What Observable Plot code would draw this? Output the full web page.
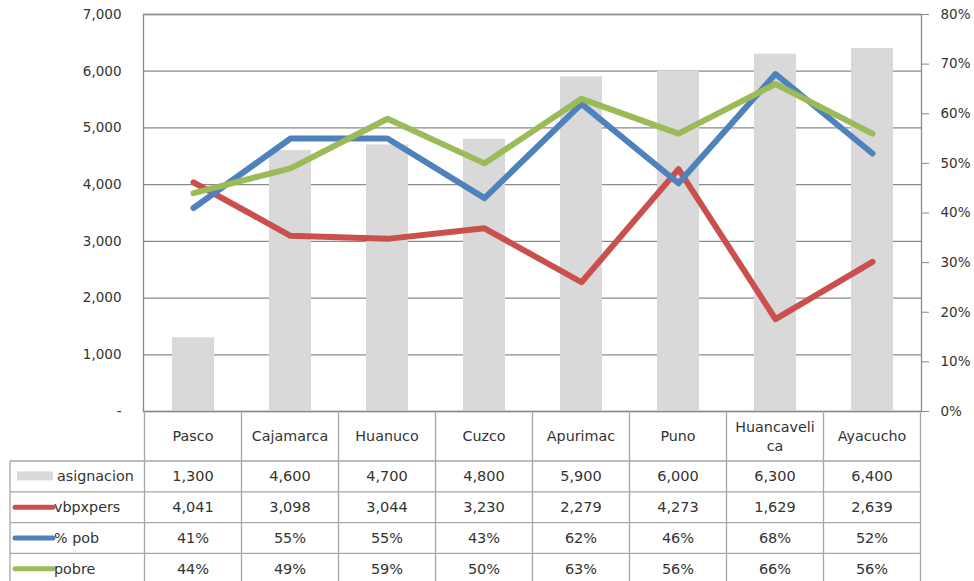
<!DOCTYPE html>
<html>
<head>
<meta charset="utf-8">
<script src="https://cdn.jsdelivr.net/npm/d3@7"></script>
<script src="https://cdn.jsdelivr.net/npm/@observablehq/plot@0.6"></script>
<style>
  html, body { margin: 0; padding: 0; background: #fff; }
  #chart svg { display: block; }
</style>
</head>
<body>
<div id="chart"></div>
<script>
// ---- data ----
const categories = ["Pasco", "Cajamarca", "Huanuco", "Cuzco", "Apurimac", "Puno", "Huancavelica", "Ayacucho"];
const headerLabels = [["Pasco"], ["Cajamarca"], ["Huanuco"], ["Cuzco"], ["Apurimac"], ["Puno"], ["Huancaveli", "ca"], ["Ayacucho"]];
const asignacion = [1300, 4600, 4700, 4800, 5900, 6000, 6300, 6400];
const vbpxpers = [4041, 3098, 3044, 3230, 2279, 4273, 1629, 2639];
const pctPob = [0.41, 0.55, 0.55, 0.43, 0.62, 0.46, 0.68, 0.52];
const pobre = [0.44, 0.49, 0.59, 0.50, 0.63, 0.56, 0.66, 0.56];
const leftTicks = [0, 1000, 2000, 3000, 4000, 5000, 6000, 7000];
const rightTicks = [0, 0.1, 0.2, 0.3, 0.4, 0.5, 0.6, 0.7, 0.8];
const seriesNames = ["asignacion", "vbpxpers", "% pob", "pobre"];

// ---- styles ----
const colors = {asignacion: "#d9d9d9", vbpxpers: "#c9504d", "% pob": "#4f81bd", pobre: "#9bbb59"};
const gridColor = "#8a8a8a";
const textColor = "#333333";
const font = "DejaVu Sans, sans-serif";

const leftMax = 7000, rightMax = 0.8;
const k = leftMax / rightMax; // map percent to left scale

const rows = categories.map((c, i) => ({
  cat: c, asignacion: asignacion[i], vbpxpers: vbpxpers[i],
  pob: pctPob[i] * k, pobre: pobre[i] * k
}));

const lineOpts = {x: "cat", strokeWidth: 6, strokeLinejoin: "round", strokeLinecap: "round"};

const plot = Plot.plot({
  width: 974,
  height: 581,
  marginTop: 14,
  marginBottom: 170,
  marginLeft: 143,
  marginRight: 53,
  style: {fontFamily: font, color: textColor, background: "#fff"},
  x: {type: "band", domain: categories, paddingInner: 0.57, paddingOuter: 0.285, axis: null},
  y: {domain: [0, leftMax], axis: null},
  marks: [
    Plot.ruleY(leftTicks, {stroke: gridColor, strokeWidth: 1.3, strokeOpacity: 1}),
    Plot.barY(rows, {x: "cat", y: "asignacion", fill: colors.asignacion}),
    Plot.line(rows, {...lineOpts, y: "vbpxpers", stroke: colors.vbpxpers}),
    Plot.line(rows, {...lineOpts, y: "pob", stroke: colors["% pob"]}),
    Plot.line(rows, {...lineOpts, y: "pobre", stroke: colors.pobre}),
    Plot.frame({stroke: gridColor, strokeWidth: 1.3, strokeOpacity: 1}),
    Plot.axisY(leftTicks, {
      anchor: "left", tickSize: 0, tickPadding: 22, fontSize: 13.5, fill: textColor,
      tickFormat: d => d === 0 ? "-" : d3.format(",")(d), label: null
    }),
    Plot.axisY(rightTicks.map(t => t * k), {
      anchor: "right", tickSize: 7, tickPadding: 12, fontSize: 13.5, fill: textColor, stroke: gridColor,
      tickFormat: d => Math.round(d / k * 100) + "%", label: null
    })
  ]
});

document.getElementById("chart").appendChild(plot);

// ---- data table drawn under the plot, aligned with the plot's x scale ----
const xs = plot.scale("x");
const ys = plot.scale("y");
const step = xs.step;
const centers = categories.map(c => xs.apply(c) + xs.bandwidth / 2);
const plotLeft = centers[0] - step / 2;
const plotRight = centers[centers.length - 1] + step / 2;
const axisY0 = ys.apply(0);
const headerBottom = axisY0 + 50;
const rowH = 30.8;
const tableLeft = 10;
const svg = d3.select(plot);
const g = svg.append("g").attr("font-family", font).attr("fill", textColor);

// header labels
headerLabels.forEach((lbl, i) => {
  const cy = (axisY0 + headerBottom) / 2;
  lbl.forEach((ln, j) => {
    g.append("text")
      .attr("x", centers[i])
      .attr("y", cy + (j - (lbl.length - 1) / 2) * 19)
      .attr("dy", "0.35em")
      .attr("text-anchor", "middle")
      .attr("font-size", 14.3)
      .text(ln);
  });
});

// value rows
const fmtN = d3.format(",");
const fmtP = d => Math.round(d * 100) + "%";
const rowValues = [asignacion.map(fmtN), vbpxpers.map(fmtN), pctPob.map(fmtP), pobre.map(fmtP)];
rowValues.forEach((vals, r) => {
  const cy = headerBottom + rowH * (r + 0.5);
  vals.forEach((v, i) => {
    g.append("text").attr("x", centers[i]).attr("y", cy).attr("dy", "0.35em")
      .attr("text-anchor", "middle").attr("font-size", 14.5).text(v);
  });
  const name = seriesNames[r];
  if (r === 0) {
    g.append("rect").attr("x", 17).attr("y", cy - 5).attr("width", 36).attr("height", 9)
      .attr("fill", colors[name]);
    g.append("text").attr("x", 57).attr("y", cy).attr("dy", "0.35em")
      .attr("text-anchor", "start").attr("font-size", 14.3).text(name);
  } else {
    g.append("line").attr("x1", 15).attr("x2", 53).attr("y1", cy).attr("y2", cy)
      .attr("stroke", colors[name]).attr("stroke-width", 5).attr("stroke-linecap", "round");
    g.append("text").attr("x", 54).attr("y", cy).attr("dy", "0.35em")
      .attr("text-anchor", "start").attr("font-size", 14.3).text(name);
  }
});

// table borders
const borders = g.append("g").attr("stroke", "#a6a6a6").attr("stroke-width", 1.3).attr("fill", "none");
const tableBottom = headerBottom + rowH * 4 + 5;
for (let r = 0; r <= 4; r++) {
  const yy = headerBottom + rowH * r;
  borders.append("line").attr("x1", tableLeft).attr("x2", plotRight).attr("y1", yy).attr("y2", yy);
}
for (let i = 0; i <= categories.length; i++) {
  const xx = plotLeft + step * i;
  borders.append("line").attr("x1", xx).attr("x2", xx).attr("y1", axisY0).attr("y2", tableBottom);
}
borders.append("line").attr("x1", tableLeft).attr("x2", tableLeft).attr("y1", headerBottom).attr("y2", tableBottom);
</script>
</body>
</html>
